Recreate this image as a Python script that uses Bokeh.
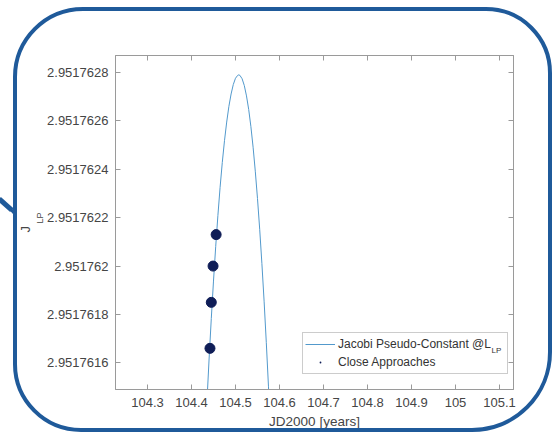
import math
from bokeh.plotting import figure
from bokeh.models import (ColumnDataSource, Range1d, FixedTicker, LinearAxis, Legend,
                          LegendItem, Label, Arrow, NormalHead, Title, InlineStyleSheet)
from bokeh.embed import file_html
from bokeh.resources import INLINE

# ---------------- data ----------------
curve_x = [104.430, 104.435, 104.440, 104.445, 104.450, 104.455, 104.460, 104.465,
           104.470, 104.475, 104.480, 104.485, 104.490, 104.495, 104.500, 104.505,
           104.5075,
           104.510, 104.515, 104.520, 104.525, 104.530, 104.535, 104.540, 104.545,
           104.550, 104.555, 104.560, 104.565, 104.570, 104.575, 104.580, 104.585]
curve_y = [2.951761242, 2.951761436, 2.951761616, 2.951761783, 2.951761938, 2.951762080,
           2.951762209, 2.951762325, 2.951762428, 2.951762518, 2.951762595, 2.951762660,
           2.951762711, 2.951762750, 2.951762776, 2.951762788,
           2.951762790,
           2.951762788, 2.951762774, 2.951762746, 2.951762703, 2.951762647, 2.951762576,
           2.951762491, 2.951762392, 2.951762279, 2.951762152, 2.951762010, 2.951761855,
           2.951761685, 2.951761501, 2.951761303, 2.951761091]

approach_x = [104.456, 104.449, 104.445, 104.442]
approach_y = [2.95176213, 2.95176200, 2.95176185, 2.95176166]

x_ticks = [104.3, 104.4, 104.5, 104.6, 104.7, 104.8, 104.9, 105.0, 105.1]
x_tick_labels = ["104.3", "104.4", "104.5", "104.6", "104.7", "104.8", "104.9", "105", "105.1"]
y_ticks = [2.9517616, 2.9517618, 2.951762, 2.9517622, 2.9517624, 2.9517626, 2.9517628]
y_tick_labels = ["2.9517616", "2.9517618", "2.951762", "2.9517622", "2.9517624",
                 "2.9517626", "2.9517628"]

x_label = "JD2000 [years]"
y_label_main = "J"
y_label_sub = "LP"
legend_curve = "Jacobi Pseudo-Constant @L"
legend_curve_sub = "LP"
legend_points = "Close Approaches"

# ---------------- styling ----------------
FONT = "Liberation Sans"
AX_COL = "#9a9a9a"
TXT_COL = "#454545"
FRAME_COL = "#1f5a9a"
LINE_COL = "#5299cc"
DOT_COL = "#0f1d57"

FL, FR, FT, FB = 115, 513, 55, 389   # plot-area edges in the 553x432 canvas


def overrides(ticks, labels):
    d = {}
    for t, lab in zip(ticks, labels):
        d[float(t)] = lab
        k = repr(float(t))
        if k.endswith(".0"):
            k = k[:-2]
        d[k] = lab
    return d


p = figure(width=553, height=432, output_backend="svg", toolbar_location=None,
           x_range=Range1d(104.2273, 105.1318), y_range=Range1d(2.95176149, 2.95176287),
           min_border_left=FL, min_border_right=553 - FR, min_border_top=FT,
           min_border_bottom=432 - FB)
p.background_fill_color = "white"
p.border_fill_color = "white"
p.outline_line_color = AX_COL
p.xgrid.visible = False
p.ygrid.visible = False

p.add_layout(LinearAxis(), "above")
p.add_layout(LinearAxis(), "right")


def style_axis(ax, ticks, labels, show):
    ax.ticker = FixedTicker(ticks=ticks, minor_ticks=[])
    ax.major_label_overrides = overrides(ticks, labels)
    ax.axis_line_color = AX_COL
    ax.major_tick_line_color = AX_COL
    ax.major_tick_in = 5
    ax.major_tick_out = 0
    ax.minor_tick_line_color = None
    ax.major_label_text_font = FONT
    ax.major_label_text_font_size = "13px"
    ax.major_label_text_color = TXT_COL if show else None


for ax in p.below:
    style_axis(ax, x_ticks, x_tick_labels, True)
    ax.major_label_standoff = 8
    ax.axis_label = x_label
    ax.axis_label_text_font = FONT
    ax.axis_label_text_font_size = "13.5px"
    ax.axis_label_text_font_style = "normal"
    ax.axis_label_text_color = TXT_COL
    ax.axis_label_standoff = 4
for ax in p.above:
    style_axis(ax, x_ticks, x_tick_labels, False)
for ax in p.left:
    style_axis(ax, y_ticks, y_tick_labels, True)
    ax.major_label_standoff = 7
for ax in p.right:
    style_axis(ax, y_ticks, y_tick_labels, False)

# y-axis title "J" with subscript "LP" as two rotated titles in the left panel
p.add_layout(Title(text=y_label_sub, align="left", offset=FB - 223, standoff=0,
                   text_font=FONT, text_font_size="9px", text_font_style="normal",
                   text_line_height=0.6, text_color=TXT_COL), "left")
p.add_layout(Title(text=y_label_main, align="left", offset=FB - 232, standoff=0,
                   text_font=FONT, text_font_size="13px", text_font_style="normal",
                   text_color=TXT_COL), "left")

src_curve = ColumnDataSource(data=dict(x=curve_x, y=curve_y))
src_pts = ColumnDataSource(data=dict(x=approach_x, y=approach_y))

r_line = p.line("x", "y", source=src_curve, line_color=LINE_COL, line_width=1)
# small "dot" markers (hidden under the big circles) give the legend its tiny dot
r_dot = p.scatter("x", "y", source=src_pts, marker="dot", size=10,
                  fill_color=DOT_COL, line_color=DOT_COL)
p.scatter("x", "y", source=src_pts, marker="circle", size=10,
          fill_color=DOT_COL, line_color=DOT_COL)

legend = Legend(items=[LegendItem(label=legend_curve, renderers=[r_line]),
                       LegendItem(label=legend_points, renderers=[r_dot])],
                location=(187, 15), margin=0, padding=2, spacing=0,
                label_height=18, glyph_height=18, glyph_width=30, label_standoff=3,
                label_width=167,
                label_text_font=FONT, label_text_font_size="12px",
                label_text_color="#333333",
                border_line_color=AX_COL, border_line_width=1,
                background_fill_color="white", background_fill_alpha=0)
p.add_layout(legend, "center")

# subscript of the legend entry
p.add_layout(Label(x=491, y=350, x_units="canvas", y_units="canvas",
                   text=legend_curve_sub, text_font=FONT, text_font_size="8px",
                   text_color="#333333", text_align="left", text_baseline="alphabetic"))

# arrow head pointing at the frame (shaft is added with CSS below)
p.add_layout(Arrow(x_start=4, y_start=202, x_end=15, y_end=214,
                   start_units="canvas", end_units="canvas",
                   line_color=FRAME_COL, line_width=3,
                   end=NormalHead(size=11, fill_color=FRAME_COL, line_color=FRAME_COL)))

# rounded blue frame around the whole chart and the arrow shaft
css = f"""
:host::after {{
  content: "";
  position: absolute;
  left: 13px; top: 6.5px;
  width: 530.5px; height: 417px;
  border: 4px solid {FRAME_COL};
  border-radius: 70px 66px 80px 68px;
  pointer-events: none;
  z-index: 10;
}}
:host::before {{
  content: "";
  position: absolute;
  left: -3px; top: 202px;
  width: 17px; height: 5px;
  background: {FRAME_COL};
  transform: rotate(42deg);
  pointer-events: none;
  z-index: 10;
}}
"""
p.stylesheets = [InlineStyleSheet(css=css)]

open("out.html", "w").write(file_html(p, INLINE))
